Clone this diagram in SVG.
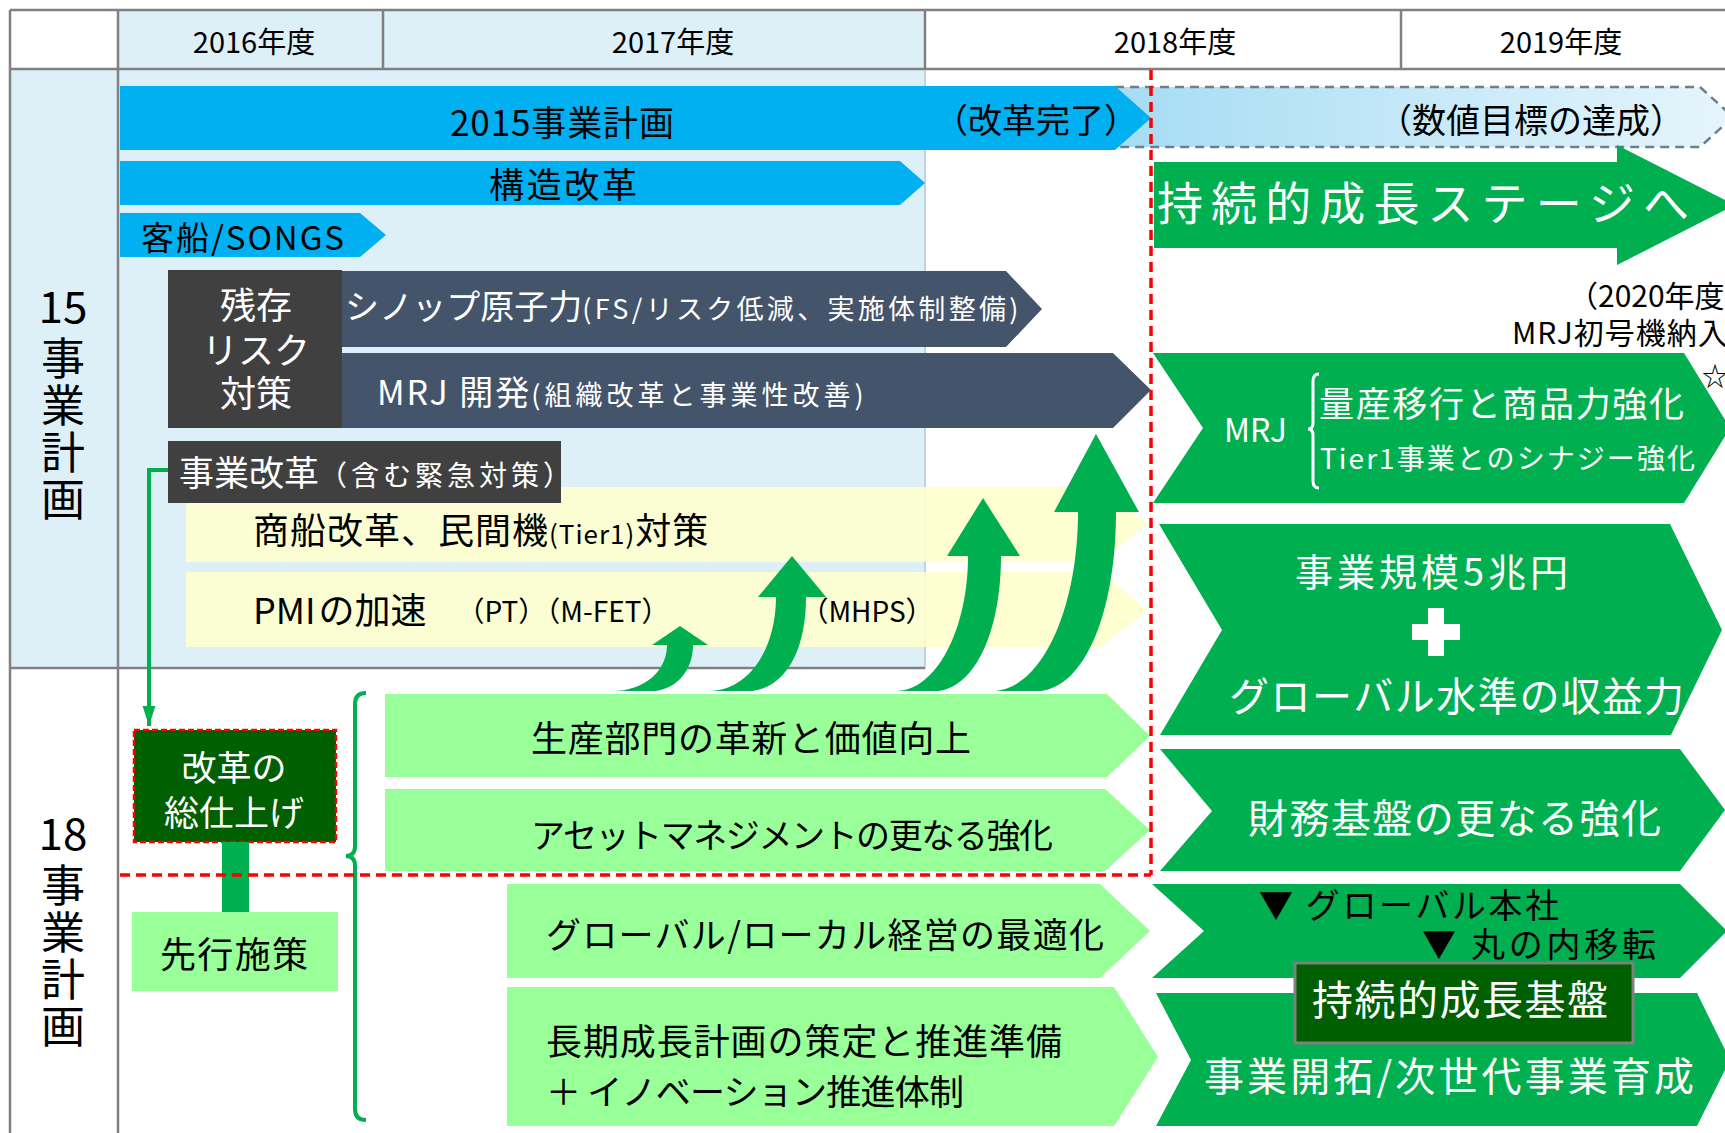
<svg xmlns="http://www.w3.org/2000/svg" width="1725" height="1133" viewBox="0 0 1725 1133">
<defs>
<style>
text{font-family:"Noto Sans CJK JP","Noto Sans",sans-serif;fill:#000}
.c{dominant-baseline:central}
.m{text-anchor:middle}
.w{fill:#fff}
.v{writing-mode:vertical-rl;font-size:44px;letter-spacing:3px}
.grid{stroke:#808080;stroke-width:2.5;fill:none}
.blue{fill:#00B0F0}
.navy{fill:#44546A}
.dk{fill:#404040}
.yel{fill:#FFFFCC;fill-opacity:0.88}
.grn{fill:#00B050}
.lg{fill:#99FF99}
.red{stroke:#FF0000;stroke-width:3.5;stroke-dasharray:10 6;fill:none}
</style>
<linearGradient id="lb" x1="0" x2="1" y1="0" y2="0">
<stop offset="0" stop-color="#A6DCF4"/>
<stop offset="1" stop-color="#E6F5FB"/>
</linearGradient>
<marker id="ah" markerUnits="userSpaceOnUse" markerWidth="20" markerHeight="30" refX="28" refY="9" orient="auto" viewBox="0 0 28 18">
<path d="M0,0 L28,9 L0,18 Z" fill="#00B050"/>
</marker>
</defs>

<g id="table">
<rect x="10" y="10" width="1715" height="1123" fill="#fff"/>
<rect x="10" y="69" width="108" height="599" fill="#DDF0F8"/>
<rect x="118" y="10" width="807" height="658" fill="#DDF0F8"/>
<line x1="925" y1="69" x2="925" y2="668" stroke="#BFD4E0" stroke-width="2"/>
<path class="grid" d="M10,10 H1725 M10,69 H1725 M10,10 V1133 M118,10 V1133 M383,10 V69 M925,10 V69 M1401,10 V69 M10,668 H925"/>
<text class="c m" x="254" y="40" font-size="29">2016年度</text>
<text class="c m" x="673" y="40" font-size="29">2017年度</text>
<text class="c m" x="1175" y="40" font-size="29">2018年度</text>
<text class="c m" x="1561" y="40" font-size="29">2019年度</text>
<text class="c m" x="63" y="304" font-size="44">15</text>
<text class="v" x="63" y="336">事業計画</text>
<text class="c m" x="63" y="831" font-size="44">18</text>
<text class="v" x="63" y="863">事業計画</text>
</g>

<g id="target">
<path d="M1115,87 H1700 L1733,117 L1700,147 H1115 Z" fill="url(#lb)" stroke="#6E7F8C" stroke-width="2.5" stroke-dasharray="9 6"/>
<text class="c m" x="1531" y="118" font-size="34">（数値目標の達成）</text>
</g>

<g id="plan2015">
<path class="blue" d="M120,86 H1115 L1151,118 L1115,150 H120 Z"/>
<text class="c m" x="562" y="120" font-size="35" textLength="224">2015事業計画</text>
<text class="c m" x="1036" y="118" font-size="34">（改革完了）</text>
</g>

<g id="kozo">
<path class="blue" d="M120,161 H900 L925,183 L900,205 H120 Z"/>
<text class="c m" x="563" y="182" font-size="35" textLength="148">構造改革</text>
</g>

<g id="songs">
<path class="blue" d="M120,213 H360 L386,235 L360,257 H120 Z"/>
<text class="c" x="141" y="236" font-size="33" textLength="203">客船/SONGS</text>
</g>

<g id="zanzon">
<rect class="dk" x="168" y="270" width="174" height="158"/>
<text class="m w" font-size="36"><tspan x="256" y="318.7">残存</tspan><tspan x="256" y="363.7">リスク</tspan><tspan x="256" y="406.7">対策</tspan></text>
</g>

<g id="sinop">
<path class="navy" d="M342,271 H1006 L1042,309 L1006,347 H342 Z"/>
<text class="w" x="345" y="319" font-size="34">シノップ原子力<tspan font-size="27" letter-spacing="3.3">(FS/リスク低減、実施体制整備)</tspan></text>
</g>

<g id="mrjdev">
<path class="navy" d="M342,353 H1113 L1151,390 L1113,428 H342 Z"/>
<text class="w" x="377" y="405" font-size="34" letter-spacing="2">MRJ 開発<tspan font-size="27" letter-spacing="4">(組織改革と事業性改善)</tspan></text>
</g>

<g id="shosen">
<path class="yel" d="M186,487 H1100 L1148,524 L1100,562 H186 Z"/>
<text x="253" y="544" font-size="36" letter-spacing="1">商船改革、民間機<tspan font-size="26">(Tier1)</tspan>対策</text>
</g>

<g id="pmi">
<path class="yel" d="M186,572 H1100 L1148,610 L1100,647 H186 Z"/>
<text x="253" y="624" font-size="36">PMI<tspan dx="3">の加速</tspan></text>
<text class="c m" x="563" y="610" font-size="28">（PT）（M-FET）</text>
<text class="c m" x="867" y="610" font-size="28">（MHPS）</text>
</g>

<g id="jigyo">
<rect class="dk" x="168" y="441" width="393" height="62"/>
<text class="w" x="179" y="486" font-size="35">事業改革<tspan font-size="28" letter-spacing="4">（含む緊急対策）</tspan></text>
</g>

<g id="uparrows" class="grn">
<path d="M613,691 C643,691 667,672 667,645 L652,645 L680,626 L708,645 L693,645 C693,672 675,689 655,691 Z"/>
<path d="M709,691 C748,691 776,650 776,597 L758,597 L792,556 L826,597 L806,597 C806,652 785,687 752,691 Z"/>
<path d="M896,691 C936,691 968,630 968,556 L947,556 L983,498 L1020,556 L1001,556 C1001,632 975,687 938,691 Z"/>
<path d="M992,691 C1041,691 1078,610 1078,512 L1054,512 L1096,434 L1139,512 L1116,512 C1116,612 1085,687 1040,691 Z"/>
</g>

<g id="kaikaku">
<rect x="134" y="730" width="202" height="112" fill="#005F00" stroke="#FF0000" stroke-width="2.5" stroke-dasharray="6 3"/>
<text class="m w" font-size="35"><tspan x="234" y="781">改革の</tspan><tspan x="234" y="826">総仕上げ</tspan></text>
</g>

<g id="senko">
<rect class="lg" x="132" y="912" width="206" height="79"/>
<text class="c m" x="234" y="952" font-size="36" textLength="148">先行施策</text>
</g>

<g id="seisan">
<path class="lg" d="M385,694 H1107 L1150,736 L1107,777 H385 Z"/>
<text class="c" x="531" y="736" font-size="36" textLength="440">生産部門の革新と価値向上</text>
</g>

<g id="asset">
<path class="lg" d="M385,789 H1105 L1150,830 L1105,871 H385 Z"/>
<text class="c" x="531" y="833" font-size="34" textLength="522">アセットマネジメントの更なる強化</text>
</g>

<g id="global">
<path class="lg" d="M507,884 H1100 L1150,931 L1100,978 H507 Z"/>
<text class="c" x="546" y="932" font-size="35" textLength="558">グローバル/ローカル経営の最適化</text>
</g>

<g id="choki">
<path class="lg" d="M507,987 H1114 L1158,1057 L1114,1126 H507 Z"/>
<text class="c" x="546" y="1039" font-size="36" textLength="516">長期成長計画の策定と推進準備</text>
<text class="c" x="546" y="1089" font-size="35" textLength="418">＋ イノベーション推進体制</text>
</g>

<g id="stage">
<path class="grn" d="M1154,162 H1617 V145 L1735,205 L1617,265 V248 H1154 Z"/>
<text class="c w" x="1157" y="200" font-size="46" textLength="532">持続的成長ステージへ</text>
</g>

<g id="note2020">
<text font-size="30"><tspan x="1568" y="307">（2020年度）</tspan><tspan x="1512" y="344" letter-spacing="1">MRJ初号機納入</tspan></text>
<text class="c" x="1702" y="374" font-size="26">☆</text>
</g>

<g id="mrj">
<path class="grn" d="M1153,353 H1684 L1730,428 L1684,503 H1153 L1203,428 Z"/>
<text class="c w" x="1224" y="428" font-size="32">MRJ</text>
<path d="M1319,374 Q1313,374 1313,381 V423 Q1313,429 1308,429 Q1313,429 1313,435 V481 Q1313,488 1319,488" fill="none" stroke="#fff" stroke-width="3"/>
<text class="c w" x="1319" y="401" font-size="35" textLength="365">量産移行と商品力強化</text>
<text class="c w" x="1320" y="457" font-size="28" textLength="375">Tier1事業とのシナジー強化</text>
</g>

<g id="scale">
<path class="grn" d="M1159,524 H1670 L1722,630 L1671,735 H1160 L1222,630 Z"/>
<text class="c w" x="1295" y="569" font-size="38" textLength="273">事業規模5兆円</text>
<path d="M1428,608 h16 v16 h16 v16 h-16 v16 h-16 v-16 h-16 v-16 h16 Z" fill="#fff"/>
<text class="c w" x="1229" y="694" font-size="40" textLength="455">グローバル水準の収益力</text>
</g>

<g id="zaimu">
<path class="grn" d="M1160,749 H1680 L1725,810 L1680,871 H1160 L1212,811 Z"/>
<text class="c w" x="1248" y="816" font-size="40" textLength="413">財務基盤の更なる強化</text>
</g>

<g id="honsha">
<path class="grn" d="M1152,884 H1680 L1727,931 L1680,978 H1152 L1204,931 Z"/>
<text class="c" x="1259" y="903" font-size="34" textLength="300">▼ グローバル本社</text>
<text class="c" x="1422" y="942" font-size="34" textLength="234">▼ 丸の内移転</text>
</g>

<g id="kaitaku">
<path class="grn" d="M1156,993 H1697 L1730,1060 L1697,1126 H1156 L1191,1060 Z"/>
<text class="c w" x="1204" y="1074" font-size="40" textLength="490">事業開拓/次世代事業育成</text>
</g>

<g id="kiban">
<rect x="1295" y="963" width="338" height="80" fill="#005F00" stroke="#7F7F7F" stroke-width="3"/>
<text class="c w" x="1312" y="997" font-size="41" textLength="296">持続的成長基盤</text>
</g>

<g id="connectors">
<polyline points="168,470 149,470 149,726" fill="none" stroke="#00B050" stroke-width="4" marker-end="url(#ah)"/>
<rect x="222" y="842" width="27" height="70" fill="#00B050"/>
<path d="M366,693 Q355,693 355,704 V846 Q355,856 346,856 Q355,856 355,866 V1109 Q355,1120 366,1120" fill="none" stroke="#00B050" stroke-width="4"/>
</g>

<g id="guides">
<line class="red" x1="1151" y1="70" x2="1151" y2="875"/>
<line class="red" x1="120" y1="875" x2="1151" y2="875"/>
</g>
</svg>
